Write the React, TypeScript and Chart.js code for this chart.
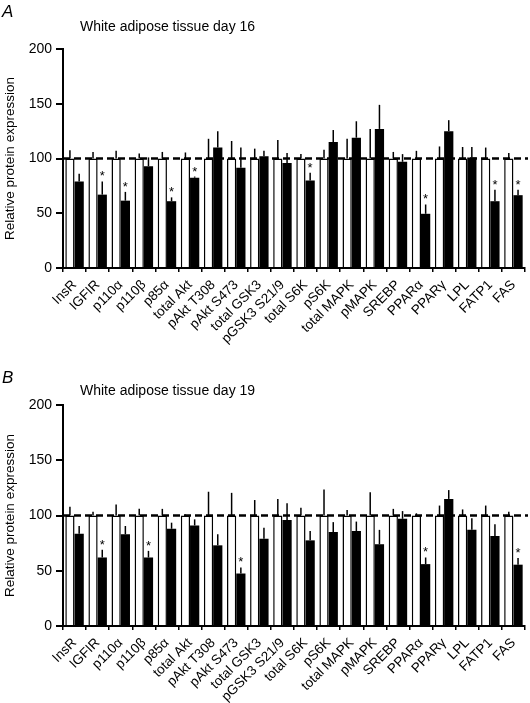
import React, { useEffect, useRef } from "react";
import { Chart, registerables } from "chart.js";

Chart.register(...registerables);

const FONT = "'Liberation Sans', Arial, Helvetica, sans-serif";

const categories = [
  "InsR", "IGFIR", "p110α", "p110β", "p85α", "total Akt", "pAkt T308", "pAkt S473",
  "total GSK3", "pGSK3 S21/9", "total S6K", "pS6K", "total MAPK", "pMAPK", "SREBP",
  "PPARα", "PPARγ", "LPL", "FATP1", "FAS",
];

const yTickValues = [0, 50, 100, 150, 200];
const referenceLevel = 100;

// Panel A — day 16
const titleA = "White adipose tissue day 16";
const controlA = [100, 100, 100, 100, 100, 100, 100, 100, 100, 100, 100, 100, 100, 100, 100, 100, 100, 100, 100, 100];
const controlErrA = [7.5, 6, 7, 4.5, 6, 5.5, 18, 16, 9, 17, 4, 8, 18, 27, 6, 7, 11, 10.5, 10, 5];
const treatedA = [79, 67, 61.5, 93, 61, 82.5, 110, 91.5, 102, 96, 80, 115, 119, 127, 97, 49.5, 125, 101, 61, 66.5];
const treatedErrA = [7, 12, 8, 8, 3.5, 1, 15, 18.5, 5, 9, 7, 11, 15, 22, 7, 8.5, 10, 9.5, 10.5, 5];
const significantA = [false, true, true, false, true, true, false, false, false, false, true, false, false, false, false, true, false, false, true, true];

// Panel B — day 19
const titleB = "White adipose tissue day 19";
const controlB = [100, 100, 100, 100, 100, 100, 100, 100, 100, 100, 100, 100, 100, 100, 100, 100, 100, 100, 100, 100];
const controlErrB = [8, 3.5, 10, 6, 6, 1, 21.5, 20.5, 14, 15, 7, 23.5, 5, 21, 6, 2, 9, 5.5, 9, 3.5];
const treatedB = [83.5, 62, 83, 62, 88, 91, 73, 47.5, 79, 96, 77.5, 85, 86, 74, 97, 56, 115, 87, 81.5, 55.5];
const treatedErrB = [7, 7, 7.5, 6, 5.5, 5.5, 10, 5.5, 10, 15, 8.5, 9, 8.5, 13, 7, 6, 8, 10.5, 10.5, 6];
const significantB = [false, true, false, true, false, false, false, true, false, false, false, false, false, false, false, true, false, false, false, true];

type PanelProps = {
  letter: string;
  title: string;
  control: number[];
  controlErr: number[];
  treated: number[];
  treatedErr: number[];
  significant: boolean[];
  height: number;
  plotTop: number;
  plotBottom: number;
  letterY: number;
  titleY: number;
};

function Panel(p: PanelProps) {
  const ref = useRef<HTMLCanvasElement | null>(null);

  useEffect(() => {
    if (!ref.current) return;
    const errs = [p.controlErr, p.treatedErr];
    const overlay = {
      id: "overlay",
      afterDatasetsDraw(chart: any) {
        const ctx = chart.ctx;
        const y = chart.scales.y;
        const area = chart.chartArea;
        ctx.save();
        // error bars (upper only)
        ctx.strokeStyle = "#000";
        ctx.lineWidth = 1.5;
        chart.data.datasets.forEach((ds: any, di: number) => {
          const meta = chart.getDatasetMeta(di);
          meta.data.forEach((bar: any, i: number) => {
            const top = y.getPixelForValue(ds.data[i] + errs[di][i]);
            ctx.beginPath();
            ctx.moveTo(bar.x, bar.y);
            ctx.lineTo(bar.x, top);
            ctx.stroke();
          });
        });
        // reference dashed line
        const yr = y.getPixelForValue(referenceLevel);
        ctx.setLineDash([7, 4]);
        ctx.lineWidth = 2.4;
        ctx.beginPath();
        ctx.moveTo(area.left, yr);
        ctx.lineTo(chart.width - 2, yr);
        ctx.stroke();
        ctx.setLineDash([]);
        // significance stars
        const meta = chart.getDatasetMeta(1);
        ctx.fillStyle = "#000";
        ctx.font = `13px ${FONT}`;
        ctx.textAlign = "center";
        ctx.textBaseline = "alphabetic";
        meta.data.forEach((bar: any, i: number) => {
          if (!p.significant[i]) return;
          const top = y.getPixelForValue(p.treated[i] + p.treatedErr[i]);
          ctx.fillText("*", bar.x, top - 1);
        });
        ctx.restore();
      },
      afterDraw(chart: any) {
        const ctx = chart.ctx;
        ctx.save();
        ctx.fillStyle = "#000";
        ctx.textAlign = "left";
        ctx.textBaseline = "alphabetic";
        ctx.font = `italic 17px ${FONT}`;
        ctx.fillText(p.letter, 2, p.letterY);
        ctx.font = `14px ${FONT}`;
        ctx.fillText(p.title, 80, p.titleY);
        ctx.restore();
      },
    };

    const chart = new Chart(ref.current, {
      type: "bar",
      data: {
        labels: categories,
        datasets: [
          {
            label: "Control",
            data: p.control,
            backgroundColor: "#fff",
            borderColor: "#000",
            borderWidth: 1.5,
            borderSkipped: "start",
          },
          {
            label: "Treated",
            data: p.treated,
            backgroundColor: "#000",
            borderColor: "#000",
            borderWidth: 0,
          },
        ],
      },
      options: {
        responsive: false,
        animation: false,
        devicePixelRatio: 1,
        layout: { padding: { top: p.plotTop, left: 0, right: 5, bottom: 0 } },
        datasets: { bar: { categoryPercentage: 0.8, barPercentage: 1.0 } },
        plugins: { legend: { display: false }, tooltip: { enabled: false }, title: { display: false } },
        scales: {
          x: {
            grid: { drawOnChartArea: false, drawTicks: true, tickLength: 4, color: "#000", lineWidth: 1.5 },
            border: { display: true, color: "#000", width: 2 },
            ticks: {
              autoSkip: false,
              minRotation: 45,
              maxRotation: 45,
              color: "#000",
              padding: 5,
              font: { family: FONT, size: 13.5 },
            },
            afterFit(scale: any) {
              scale.height = p.height - p.plotBottom;
            },
          },
          y: {
            min: 0,
            max: 200,
            afterBuildTicks(scale: any) {
              scale.ticks = yTickValues.map((v) => ({ value: v }));
            },
            grid: { drawOnChartArea: false, drawTicks: true, tickLength: 7, color: "#000", lineWidth: 2 },
            border: { display: true, color: "#000", width: 2 },
            ticks: { color: "#000", padding: 4, font: { family: FONT, size: 14 } },
            title: {
              display: true,
              text: "Relative protein expression",
              color: "#000",
              font: { family: FONT, size: 13.5 },
              padding: { top: 2, bottom: 4 },
            },
            afterFit(scale: any) {
              scale.width = 63;
            },
          },
        },
      },
      plugins: [overlay],
    });
    return () => chart.destroy();
  }, []);

  return (
    <canvas ref={ref} width={530} height={p.height} style={{ display: "block", width: 530, height: p.height }} />
  );
}

export default function App() {
  return (
    <div style={{ position: "absolute", left: 0, top: 0, width: 530, height: 703, background: "#fff" }}>
      <Panel
        letter="A"
        title={titleA}
        control={controlA}
        controlErr={controlErrA}
        treated={treatedA}
        treatedErr={treatedErrA}
        significant={significantA}
        height={351}
        plotTop={49}
        plotBottom={268}
        letterY={17}
        titleY={31}
      />
      <Panel
        letter="B"
        title={titleB}
        control={controlB}
        controlErr={controlErrB}
        treated={treatedB}
        treatedErr={treatedErrB}
        significant={significantB}
        height={352}
        plotTop={54}
        plotBottom={275}
        letterY={32}
        titleY={44}
      />
    </div>
  );
}
